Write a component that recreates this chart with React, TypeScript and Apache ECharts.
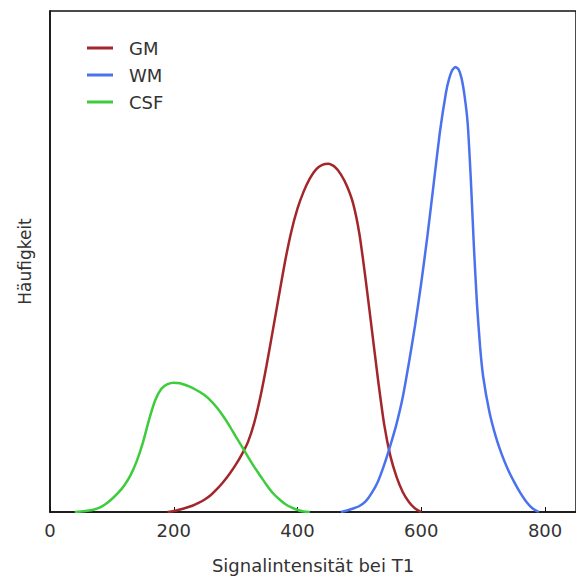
import React, { useEffect, useRef } from "react";
import * as echarts from "echarts";

const xTicks = [0, 200, 400, 600, 800];

const gmX = [190, 200, 210, 220, 230, 240, 250, 260, 270, 280, 290, 300, 310, 320, 330, 340, 350, 360, 370, 380, 390, 400, 410, 420, 430, 440, 450, 460, 470, 480, 490, 500, 510, 520, 530, 540, 550, 560, 570, 580, 590, 600];
const gmY = [0, 0.2, 0.5, 0.85, 1.25, 1.8, 2.5, 3.4, 4.6, 6.0, 7.6, 9.4, 11.5, 14.0, 17.8, 23.0, 29.3, 36.2, 43.2, 50.1, 56.0, 60.6, 64.0, 66.6, 68.4, 69.3, 69.5, 68.9, 67.4, 65.0, 61.5, 55.5, 46.5, 36.5, 26.5, 17.5, 11.2, 7.0, 4.0, 2.0, 0.7, 0];

const wmX = [470, 480, 490, 500, 510, 520, 530, 540, 550, 560, 570, 580, 590, 600, 610, 620, 630, 640, 645, 650, 655, 660, 665, 670, 675, 680, 685, 690, 695, 700, 710, 720, 730, 740, 750, 760, 770, 780, 790];
const wmY = [0, 0.3, 0.7, 1.2, 2.1, 3.8, 6.1, 9.4, 13.3, 17.6, 22.9, 29.8, 37.3, 45.8, 55.2, 65.5, 75.8, 83.8, 86.5, 88.2, 88.8, 88.4, 86.6, 83.0, 77.5, 66.5, 53.0, 41.5, 33.0, 27.0, 20.0, 15.2, 11.5, 8.5, 6.0, 3.8, 2.0, 0.7, 0];

const csfX = [40, 50, 60, 70, 80, 90, 100, 110, 120, 130, 140, 150, 160, 170, 180, 190, 200, 210, 220, 230, 240, 250, 260, 270, 280, 290, 300, 310, 320, 330, 340, 350, 360, 370, 380, 390, 400, 410, 420];
const csfY = [0, 0.1, 0.25, 0.45, 0.85, 1.6, 2.6, 3.8, 5.3, 7.3, 10.1, 13.8, 18.4, 22.3, 24.6, 25.5, 25.8, 25.7, 25.3, 24.8, 24.1, 23.3, 22.2, 20.8, 19.1, 17.2, 15.1, 13.1, 11.0, 9.0, 7.2, 5.4, 3.8, 2.6, 1.6, 0.9, 0.4, 0.1, 0];

const seriesNames = ["GM", "WM", "CSF"];
const seriesColors = ["#a3262a", "#4a72ee", "#3ccc3c"];

const zip = (xs: number[], ys: number[]) => xs.map((x, i) => [x, ys[i]]);

export default function App() {
  const ref = useRef<HTMLDivElement>(null);
  useEffect(() => {
    if (!ref.current) return;
    const chart = echarts.init(ref.current, undefined, { renderer: "svg" });
    const font = "DejaVu Sans";
    const datas = [zip(gmX, gmY), zip(wmX, wmY), zip(csfX, csfY)];
    chart.setOption({
      animation: false,
      backgroundColor: "#ffffff",
      grid: {
        left: 50,
        right: -10,
        top: 11,
        bottom: 67,
        show: true,
        borderColor: "#111",
        borderWidth: 1.5,
      },
      legend: {
        orient: "vertical",
        left: 82,
        top: 34,
        icon: "rect",
        itemWidth: 26,
        itemHeight: 3,
        itemGap: 9,
        data: seriesNames,
        textStyle: {
          fontFamily: font,
          fontSize: 18,
          color: "#333",
          padding: [0, 0, 0, 11],
        },
      },
      xAxis: {
        type: "value",
        min: 0,
        max: 850,
        interval: 200,
        name: "Signalintensität bei T1",
        nameLocation: "middle",
        nameGap: 44,
        nameTextStyle: { fontFamily: font, fontSize: 18, color: "#333" },
        axisLine: { show: true, lineStyle: { color: "#111", width: 1.5 } },
        axisTick: { show: true, inside: true, length: 5, lineStyle: { color: "#111" } },
        axisLabel: {
          fontFamily: font,
          fontSize: 18,
          color: "#333",
          margin: 9,
          showMaxLabel: false,
          formatter: (v: number) => (xTicks.includes(v) ? String(v) : ""),
        },
        splitLine: { show: false },
      },
      yAxis: {
        type: "value",
        min: 0,
        max: 100,
        name: "Häufigkeit",
        nameLocation: "middle",
        nameGap: 17,
        nameTextStyle: { fontFamily: font, fontSize: 17, color: "#333" },
        axisLine: { show: true, lineStyle: { color: "#111", width: 1.5 } },
        axisTick: { show: false },
        axisLabel: { show: false },
        splitLine: { show: false },
      },
      series: seriesNames.map((name, i) => ({
        name,
        type: "line",
        data: datas[i],
        smooth: 0.2,
        showSymbol: false,
        symbol: "none",
        color: seriesColors[i],
        lineStyle: { color: seriesColors[i], width: 2.5 },
      })),
    });
    return () => chart.dispose();
  }, []);
  return <div ref={ref} style={{ width: 576, height: 579, position: "absolute", left: 0, top: 0 }} />;
}
